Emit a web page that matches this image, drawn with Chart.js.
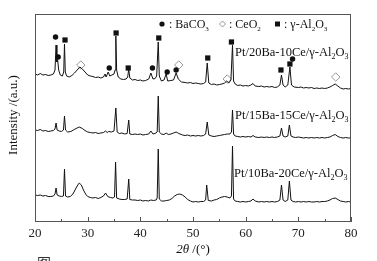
<!DOCTYPE html>
<html>
<head>
<meta charset="utf-8">
<script src="https://cdn.jsdelivr.net/npm/chart.js@4"></script>
<style>
  body { margin: 0; background: #fff; }
  #wrap { width: 377px; height: 261px; }
</style>
</head>
<body>
<div id="wrap"><canvas id="myChart" width="377" height="261"></canvas></div>
<script>
// 2theta / intensity (arbitrary units, curves stacked)
const theta20 = [20,20.5,21,21.5,22,22.5,23,23.5,23.8,24,24.15,24.3,24.5,24.8,25.2,25.45,25.6,25.75,26,26.5,27,27.5,28,28.5,29,29.5,30,30.5,31,31.5,32,32.5,33,33.3,33.5,33.9,34.2,34.6,35,35.2,35.35,35.5,35.8,36.3,36.8,37.3,37.6,37.8,38,38.5,39,39.5,40,40.5,41,41.6,42,42.4,42.8,43.1,43.4,43.6,44,44.5,44.9,45.2,45.8,46.3,46.8,47.2,47.8,48.5,49,49.5,50,50.5,51,51.5,52,52.4,52.7,53,53.5,54,54.5,55,55.5,56,56.4,56.8,57.2,57.5,57.7,58,58.5,59,59.5,60,60.5,61,61.4,61.8,62.5,63,63.5,64,64.5,65,65.5,66,66.5,66.8,67.1,67.5,68,68.4,68.7,69.2,70,70.5,71,71.5,72,72.5,73,73.5,74,74.5,75,75.5,76,76.5,77,77.5,78,78.5,79,79.5,80];
const int20 = [148,147,148.5,147,147.5,146.5,147,148,152,177,160,162,152,147,146,150,178,150,146,145,146.5,149,152,155,153,150,147,146,145.5,144.5,145,144,145,148,145,150,146,147,148,152,186,152,145,143,142.5,143,145,153,144,142,142.5,141.5,142,141,141.5,143,149,143,143.5,146,180,146,141,142,148,141,141.5,142,149,143,140,139.5,139,139.5,138.5,139,138.5,138,138.5,140,159,139,137.5,138,137,137.5,138,139,141,139,142,177,141,138,136.5,137,136,136.5,136,137,138.5,136,135.5,136,135,135.5,135,135.5,134.5,135,137,147,137,135,137,155,137,135,134.5,135,134,134.5,134,134.5,133.5,134,133.5,134,133.5,134,135,136.5,138,136,134,133,133.5,133,133.5];

const theta15 = [20,20.5,21,21.5,22,22.5,23,23.5,23.8,24,24.2,24.6,25,25.4,25.6,25.8,26.2,26.8,27.3,27.8,28.4,29,29.5,30,30.5,31,31.5,32,32.5,33,33.4,33.7,34,34.5,35,35.35,35.6,36,36.5,37,37.5,37.8,38,38.5,39,39.5,40,40.5,41,41.6,42,42.4,42.8,43.2,43.4,43.6,44,44.5,44.9,45.3,45.8,46.3,46.8,47.3,48,48.5,49,49.5,50,50.5,51,51.5,52,52.4,52.7,53,53.5,54,54.5,55,55.5,56,56.5,57,57.3,57.5,57.7,58,58.5,59,59.5,60,60.5,61,61.4,61.8,62.5,63,63.5,64,64.5,65,65.5,66,66.5,66.8,67.1,67.5,68,68.3,68.6,69,69.5,70,70.5,71,71.5,72,72.5,73,73.5,74,74.5,75,75.5,76,76.5,77,77.5,78,78.5,79,79.5,80];
const int15 = [92,91.5,92.5,91,91.5,90.5,91,91.5,93,99,92,91,90.5,92,106,92,90,90.5,92,93.5,95,93.5,91.5,90,89.5,89,89.5,88.5,89,89.5,91,89.5,90.5,90,91,114,90,88.5,89,88,88.5,102,88,87.5,88,87.5,88,87,87.5,88,91,88,88.5,90,126,90,88,87.5,89,87.5,88,89,90,88.5,87,86.5,87,86,86.5,86,86.5,86,86.5,88,100,87,86,85.5,86,86.5,87,87.5,88,88,90,112,88,86,85.5,85,85.5,85,85.5,85,86.5,85,84.5,85,84.5,85,84.5,85,84.5,85,86,94,86,85,86,97,86,85,84.5,85,84.5,84,84.5,84,84.5,84,84.5,84,84.5,84,84.5,85,86.5,87.5,85.5,84.5,84,84.5,84,84];

const theta10 = [20,20.5,21,21.5,22,22.5,23,23.5,23.8,24,24.2,24.6,25,25.4,25.6,25.8,26.2,26.7,27.2,27.6,28,28.4,28.8,29.2,29.6,30,30.5,31,31.5,32,32.5,33,33.4,33.8,34.3,34.8,35.1,35.3,35.5,36,36.5,37,37.5,37.8,38,38.5,39,39.5,40,40.5,41,41.5,42,42.5,43,43.2,43.4,43.6,44,44.5,45,45.5,46,46.5,47,47.5,48,48.5,49,49.5,50,50.5,51,51.5,52,52.4,52.6,52.9,53.5,54,54.5,55,55.5,56,56.5,57,57.3,57.5,57.7,58,58.5,59,59.5,60,60.5,61,61.4,61.8,62.5,63,63.5,64,64.5,65,65.5,66,66.5,66.8,67.1,67.5,68,68.3,68.6,69,69.5,70,70.5,71,71.5,72,72.5,73,73.5,74,74.5,75,75.5,76,76.5,77,77.5,78,78.5,79,79.5,80];
const int10 = [27,26.5,27,26,26.5,25.5,25.5,26,28,34,27,26,25.5,26,53,26,25,25.5,28,32,36,39,37,32,28,25.5,24.5,24,24.5,23.5,24.5,26,29,25.5,24.5,24,25,60,24,23,22.5,22.5,23,43,22.5,22,22,21.5,22,21,21.5,21,22,21.5,22,24,73,23,21,21,21.5,22,23.5,26,27.5,28,27,25,22.5,21,20,20.5,20,20.5,20.5,22,37,21.5,21,22,22.5,24,25,25.5,25,24,26,76,23,21,20.5,20,20.5,20,20.5,21,23,21,20,20.5,20,20.5,20,20.5,20,20.5,22,37,22,20.5,22,41,22,20.5,20,20.5,20,20.5,20,20.5,20,20,20.5,20,20.5,20.5,21,22,23.5,24,22.5,21,20.5,20,20.5,20];

// phase markers above the top pattern
const baco3X = [23.9,24.4,34.1,42.3,45.1,46.8,68.9];
const baco3Y = [185,165,154,154,150,152,163];
const ceo2X = [28.7,47.3,56.5,77.1];
const ceo2Y = [157,157,143,145];
const al2o3X = [25.7,35.4,37.7,43.5,52.8,57.3,66.7,68.4];
const al2o3Y = [182,189,154,184,164,180,152,158];

const xTicks = [20,30,40,50,60,70,80];

const serif = '"Liberation Serif", "Times New Roman", serif';
const toPts = (xs, ys) => xs.map((x, i) => ({x: x, y: ys[i]}));

function lineSet(xs, ys){
    return {data: toPts(xs, ys), borderColor: '#111', borderWidth: 1, pointRadius: 0, tension: 0, fill: false};
}

function markerSet(xs, ys, style, r, fillC, strokeC, bw){
    return {data: toPts(xs, ys), showLine: false, pointStyle: style, pointRadius: r,
        backgroundColor: fillC, borderColor: strokeC, borderWidth: bw};
}

// text with subscripts: parts = [[text, isSub], ...]
function rich(ctx, parts, x, y, size){
    ctx.textBaseline = 'alphabetic';
    ctx.textAlign = 'left';
    parts.forEach(p => {
        if(p[1]){
            ctx.font = Math.round(size*0.62) + 'px ' + serif;
            ctx.fillText(p[0], x, y + 3);
        } else {
            ctx.font = size + 'px ' + serif;
            ctx.fillText(p[0], x, y);
        }
        x += ctx.measureText(p[0]).width;
    });
    return x;
}

const decor = {
    id: 'decor',
    afterDraw(chart){
        const ctx = chart.ctx;
        const a = chart.chartArea;
        const sx = chart.scales.x;
        ctx.save();
        // frame
        ctx.strokeStyle = '#555';
        ctx.lineWidth = 1;
        ctx.strokeRect(a.left + 0.5, a.top + 0.5, a.right - a.left - 1, a.bottom - a.top - 1);
        // inward ticks on bottom axis
        ctx.beginPath();
        for(let v = 20; v <= 80; v += 5){
            const px = Math.round(sx.getPixelForValue(v)) + 0.5;
            const len = v % 10 === 0 ? 5 : 3;
            ctx.moveTo(px, a.bottom);
            ctx.lineTo(px, a.bottom - len);
        }
        ctx.stroke();

        ctx.fillStyle = '#111';
        // legend
        const ly = 24;
        ctx.beginPath(); ctx.arc(162, ly, 2.6, 0, Math.PI*2); ctx.fill();
        rich(ctx, [[' : BaCO'], ['3', true]], 166, ly + 4, 12);
        ctx.strokeStyle = '#999';
        ctx.beginPath();
        ctx.moveTo(222.5, ly - 3); ctx.lineTo(225.5, ly); ctx.lineTo(222.5, ly + 3); ctx.lineTo(219.5, ly); ctx.closePath();
        ctx.stroke();
        rich(ctx, [[' : CeO'], ['2', true]], 226, ly + 4, 12);
        ctx.fillRect(275, ly - 2.5, 5, 5);
        rich(ctx, [[' : γ-Al'], ['2', true], ['O'], ['3', true]], 281, ly + 4, 12);

        // sample labels
        rich(ctx, [['Pt/20Ba-10Ce/γ-Al'], ['2', true], ['O'], ['3', true]], 235, 56, 12.5);
        rich(ctx, [['Pt/15Ba-15Ce/γ-Al'], ['2', true], ['O'], ['3', true]], 235, 119, 12.5);
        rich(ctx, [['Pt/10Ba-20Ce/γ-Al'], ['2', true], ['O'], ['3', true]], 234, 177, 12.5);

        // x title
        ctx.font = 'italic 13px ' + serif;
        const t1 = '2θ';
        const w1 = ctx.measureText(t1).width;
        ctx.font = '13px ' + serif;
        const t2 = ' /(°)';
        const w2 = ctx.measureText(t2).width;
        let tx = 193 - (w1 + w2) / 2;
        ctx.textBaseline = 'middle';
        ctx.font = 'italic 13px ' + serif;
        ctx.fillText(t1, tx, 250);
        ctx.font = '13px ' + serif;
        ctx.fillText(t2, tx + w1, 250);

        // y title
        ctx.translate(14, 115);
        ctx.rotate(-Math.PI / 2);
        ctx.textAlign = 'center';
        ctx.fillText('Intensity /(a.u.)', 0, 0);
        ctx.restore();

        // clipped caption at the bottom edge
        ctx.save();
        ctx.fillStyle = '#333';
        ctx.font = '14px "Noto Sans CJK SC"';
        ctx.textBaseline = 'top';
        ctx.fillText('图', 37, 256);
        ctx.restore();
    }
};

const config = {
    type: 'line',
    data: {
        datasets: [
            lineSet(theta20, int20),
            lineSet(theta15, int15),
            lineSet(theta10, int10),
            markerSet(baco3X, baco3Y, 'circle', 2.7, '#111', '#111', 0),
            markerSet(ceo2X, ceo2Y, 'rectRot', 4.2, '#fff', '#999', 1),
            markerSet(al2o3X, al2o3Y, 'rect', 3.7, '#111', '#111', 0)
        ]
    },
    options: {
        responsive: false,
        animation: false,
        layout: { padding: { left: 35, right: 26, top: 14, bottom: 0 } },
        plugins: { legend: { display: false }, tooltip: { enabled: false } },
        scales: {
            x: {
                type: 'linear',
                min: 20,
                max: 80,
                afterBuildTicks: s => { s.ticks = xTicks.map(v => ({value: v})); },
                afterFit: s => { s.height = 39; },
                grid: { display: false, drawTicks: false },
                border: { display: false },
                ticks: { color: '#222', padding: 4, font: { family: serif, size: 13 } }
            },
            y: { display: false, min: 0, max: 208 }
        }
    },
    plugins: [decor]
};

new Chart(document.getElementById('myChart'), config);
</script>
</body>
</html>
